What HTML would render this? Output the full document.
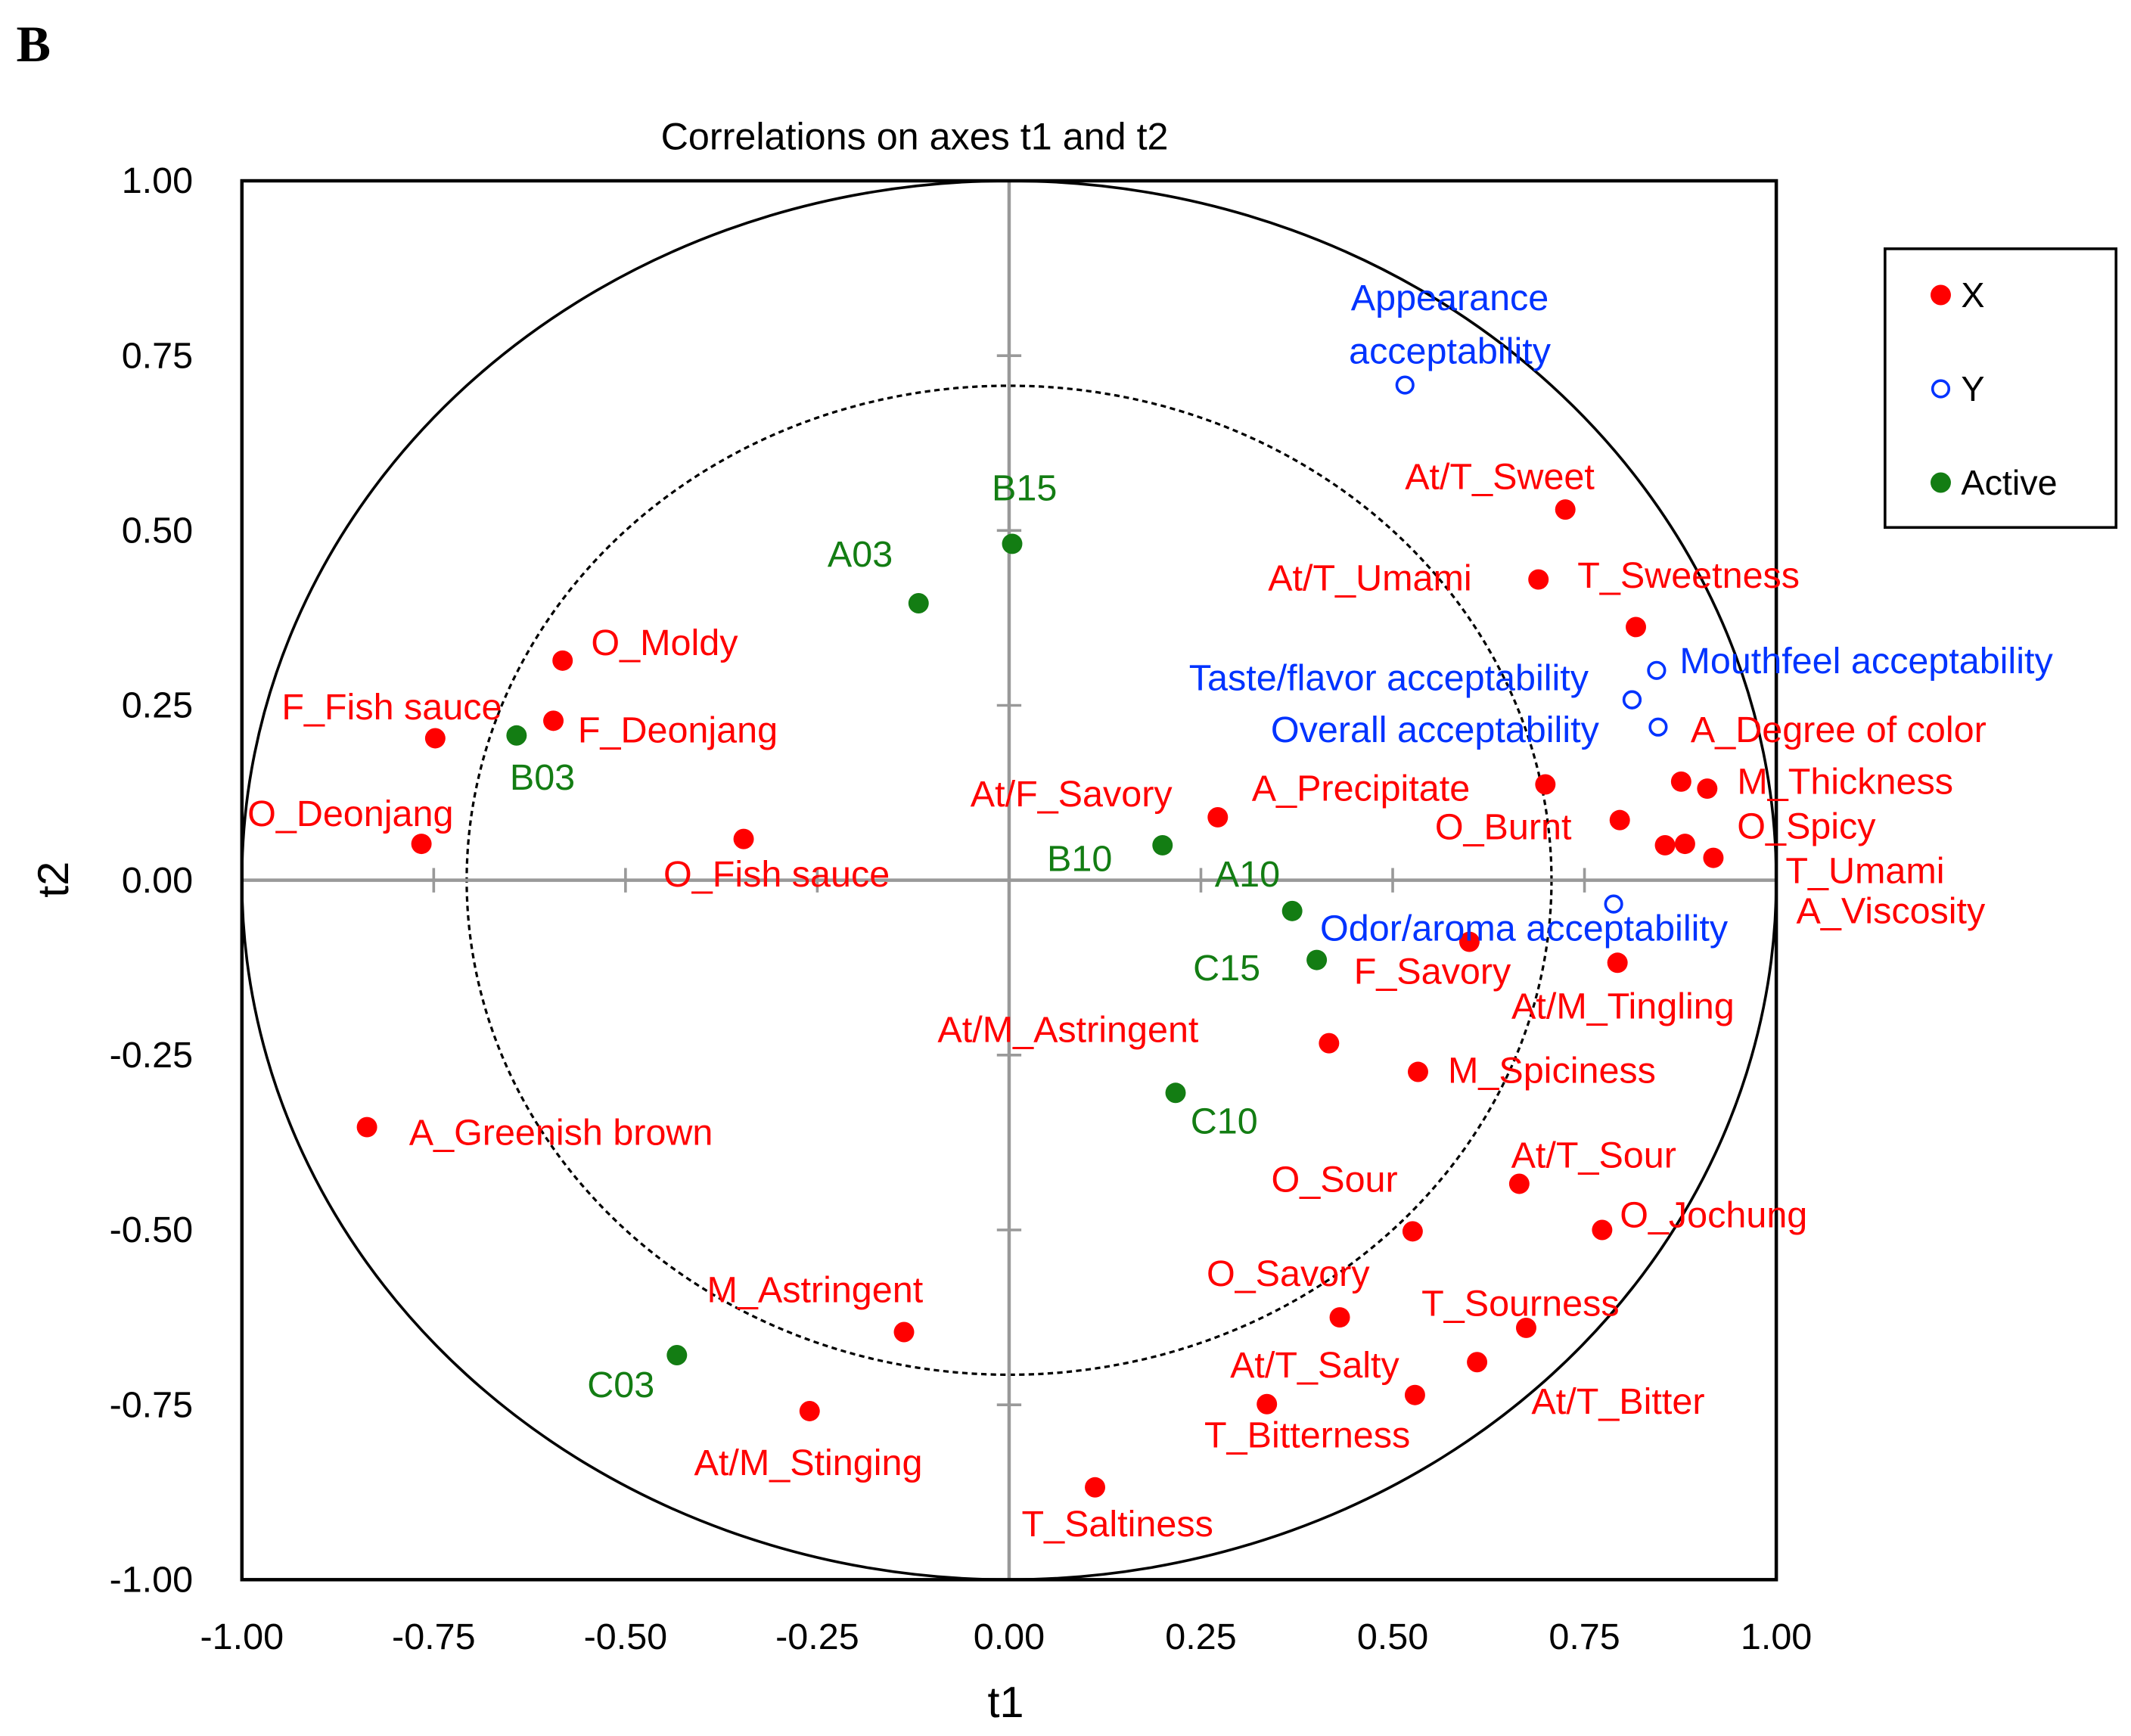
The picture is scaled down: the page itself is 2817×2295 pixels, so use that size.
<!DOCTYPE html>
<html><head><meta charset="utf-8">
<style>html,body{margin:0;padding:0;background:#fff}svg{display:block}text{font-family:"Liberation Sans",sans-serif}</style>
</head><body>
<svg id="chart" width="2817" height="2295" viewBox="0 0 1568 1277" preserveAspectRatio="none" xmlns="http://www.w3.org/2000/svg">
<rect width="1568" height="1277" fill="#fff"/>
<text x="12" y="45" style="font-family:'Liberation Serif',serif" font-weight="bold" font-size="38">B</text>
<text x="673" y="110" font-size="28" text-anchor="middle">Correlations on axes t1 and t2</text>
<g id="axes"></g>
<g id="marks"></g>
<g>
<rect x="1387" y="183" width="170" height="205" fill="#fff" stroke="#000" stroke-width="2"/>
<circle cx="1428" cy="217" r="7.5" fill="#ff0000"/>
<text x="1443" y="226" font-size="26">X</text>
<circle cx="1428" cy="286" r="6" fill="none" stroke="#0033ff" stroke-width="2"/>
<text x="1443" y="295" font-size="26">Y</text>
<circle cx="1428" cy="355" r="7.5" fill="#137d13"/>
<text x="1443" y="364" font-size="26">Active</text>
</g>
</svg>
<script>
const xNames = ["At/T_Sweet","At/T_Umami","T_Sweetness","O_Moldy","F_Deonjang","F_Fish sauce","O_Deonjang","O_Fish sauce","At/F_Savory","A_Precipitate","A_Degree of color","M_Thickness","O_Burnt","O_Spicy","T_Umami","A_Viscosity","F_Savory","At/M_Tingling","At/M_Astringent","M_Spiciness","A_Greenish brown","At/T_Sour","O_Jochung","O_Sour","O_Savory","T_Sourness","At/T_Bitter","At/T_Salty","T_Bitterness","M_Astringent","At/M_Stinging","T_Saltiness"];
const xT1 = [0.725,0.69,0.817,-0.582,-0.594,-0.748,-0.766,-0.346,0.272,0.699,0.876,0.91,0.796,0.855,0.881,0.918,0.6,0.793,0.417,0.533,-0.837,0.665,0.773,0.526,0.431,0.674,0.61,0.529,0.336,-0.137,-0.26,0.112];
const xT2 = [0.53,0.43,0.362,0.314,0.228,0.203,0.052,0.059,0.09,0.137,0.141,0.131,0.086,0.05,0.052,0.032,-0.088,-0.118,-0.233,-0.274,-0.353,-0.434,-0.5,-0.502,-0.625,-0.64,-0.689,-0.736,-0.749,-0.646,-0.759,-0.868];
const xLabelOffsets = [[-118,-15],[-199,8],[-43,-29],[21,-4],[18,16],[-113,-14],[-128,-13],[-59,35],[-182,-8],[-216,12],[7,-29],[22,4],[-136,14],[53,-5],[74,29],[61,48],[-85,31],[-78,41],[-288,-1],[22,8],[31,13],[-6,-12],[13,-2],[-104,-29],[-98,-23],[-77,-9],[40,38],[-136,-13],[-46,32],[-145,-22],[-85,47],[-54,36]];
const yNames = ["Appearance|acceptability","Mouthfeel acceptability","","Taste/flavor acceptability","Overall acceptability","Odor/aroma acceptability"];
const yT1 = [0.516,0.844,0.812,0.812,0.846,0.788];
const yT2 = [0.708,0.3,0.258,0.258,0.219,-0.034];
const yLabelOffsets = [[33,-55],[17,2],[0,0],[-326,-7],[-285,11],[-216,27]];
const aNames = ["B15","A03","B03","B10","A10","C15","C10","C03"];
const aT1 = [0.004,-0.118,-0.642,0.2,0.369,0.401,0.217,-0.433];
const aT2 = [0.481,0.396,0.207,0.05,-0.044,-0.114,-0.304,-0.679];
const aLabelOffsets = [[-15,-32],[-67,-27],[-5,40],[-85,19],[-57,-18],[-91,15],[11,30],[-66,31]];
const ticks = [-1,-0.75,-0.5,-0.25,0,0.25,0.5,0.75,1];
const tickLabels = ["-1.00","-0.75","-0.50","-0.25","0.00","0.25","0.50","0.75","1.00"];

const NS="http://www.w3.org/2000/svg";
const L=178,R=1307,T=133,B=1162;
const sx=v=>L+(v+1)/2*(R-L);
const sy=v=>B-(v+1)/2*(B-T);
function mk(tag,attrs,parent,txt){const e=document.createElementNS(NS,tag);for(const k in attrs)e.setAttribute(k,attrs[k]);if(txt!==undefined)e.textContent=txt;parent.appendChild(e);return e;}
const ax=document.getElementById('axes'), mg=document.getElementById('marks');
let e;
e=mk('ellipse',{cx:sx(0),cy:sy(0),rx:(R-L)/2,ry:(B-T)/2,fill:'none',stroke:'#000','stroke-width':2},ax);


e=mk('ellipse',{cx:sx(0),cy:sy(0),rx:(R-L)/2*0.707,ry:(B-T)/2*0.707,fill:'none',stroke:'#000','stroke-width':1.8,'stroke-dasharray':'4,3'},ax);


e=mk('line',{x1:L,x2:R,y1:sy(0),y2:sy(0),stroke:'#999','stroke-width':2.5},ax);


e=mk('line',{x1:sx(0),x2:sx(0),y1:T,y2:B,stroke:'#999','stroke-width':2.5},ax);


ticks.forEach((t,i)=>{
  e=mk('line',{x1:sx(t),x2:sx(t),y1:sy(0)-9,y2:sy(0)+9,stroke:'#999','stroke-width':2},ax);
  
  
  e=mk('line',{x1:sx(0)-9,x2:sx(0)+9,y1:sy(t),y2:sy(t),stroke:'#999','stroke-width':2},ax);
  
  
  e=mk('text',{x:sx(t),y:1213,'font-size':27,'text-anchor':'middle'},ax,tickLabels[i]);
  
  
  e=mk('text',{x:142,y:sy(t)+9,'font-size':27,'text-anchor':'end'},ax,tickLabels[i]);
  
  
});
e=mk('rect',{x:L,y:T,width:R-L,height:B-T,fill:'none',stroke:'#000','stroke-width':2.5},ax);


e=mk('text',{x:740,y:1263,'font-size':32,'text-anchor':'middle'},ax,'t1');


e=mk('text',{x:50,y:647,'font-size':32,'text-anchor':'middle',transform:'rotate(-90 50 647)'},ax,'t2');



function labelText(name,x,y,color,anchor){
  const parts=name.split('|');
  parts.forEach((p,j)=>{
    const t=mk('text',{x:x,y:y+j*39,'font-size':27,fill:color,'text-anchor':anchor},mg,p);
    
    
  });
}
xNames.forEach((n,i)=>{
  const c=mk('circle',{cx:sx(xT1[i]),cy:sy(xT2[i]),r:7.5,fill:'#ff0000'},mg);
  
  
  labelText(n,sx(xT1[i])+xLabelOffsets[i][0],sy(xT2[i])+xLabelOffsets[i][1],'#ff0000','start');
});
yNames.forEach((n,i)=>{
  const c=mk('circle',{cx:sx(yT1[i]),cy:sy(yT2[i]),r:6,fill:'#fff',stroke:'#0033ff','stroke-width':2},mg);
  
  
  if(n) labelText(n,sx(yT1[i])+yLabelOffsets[i][0],sy(yT2[i])+yLabelOffsets[i][1],'#0033ff',i===0?'middle':'start');
});
aNames.forEach((n,i)=>{
  const c=mk('circle',{cx:sx(aT1[i]),cy:sy(aT2[i]),r:7.5,fill:'#137d13'},mg);
  
  
  labelText(n,sx(aT1[i])+aLabelOffsets[i][0],sy(aT2[i])+aLabelOffsets[i][1],'#137d13','start');
});
</script>
</body></html>
